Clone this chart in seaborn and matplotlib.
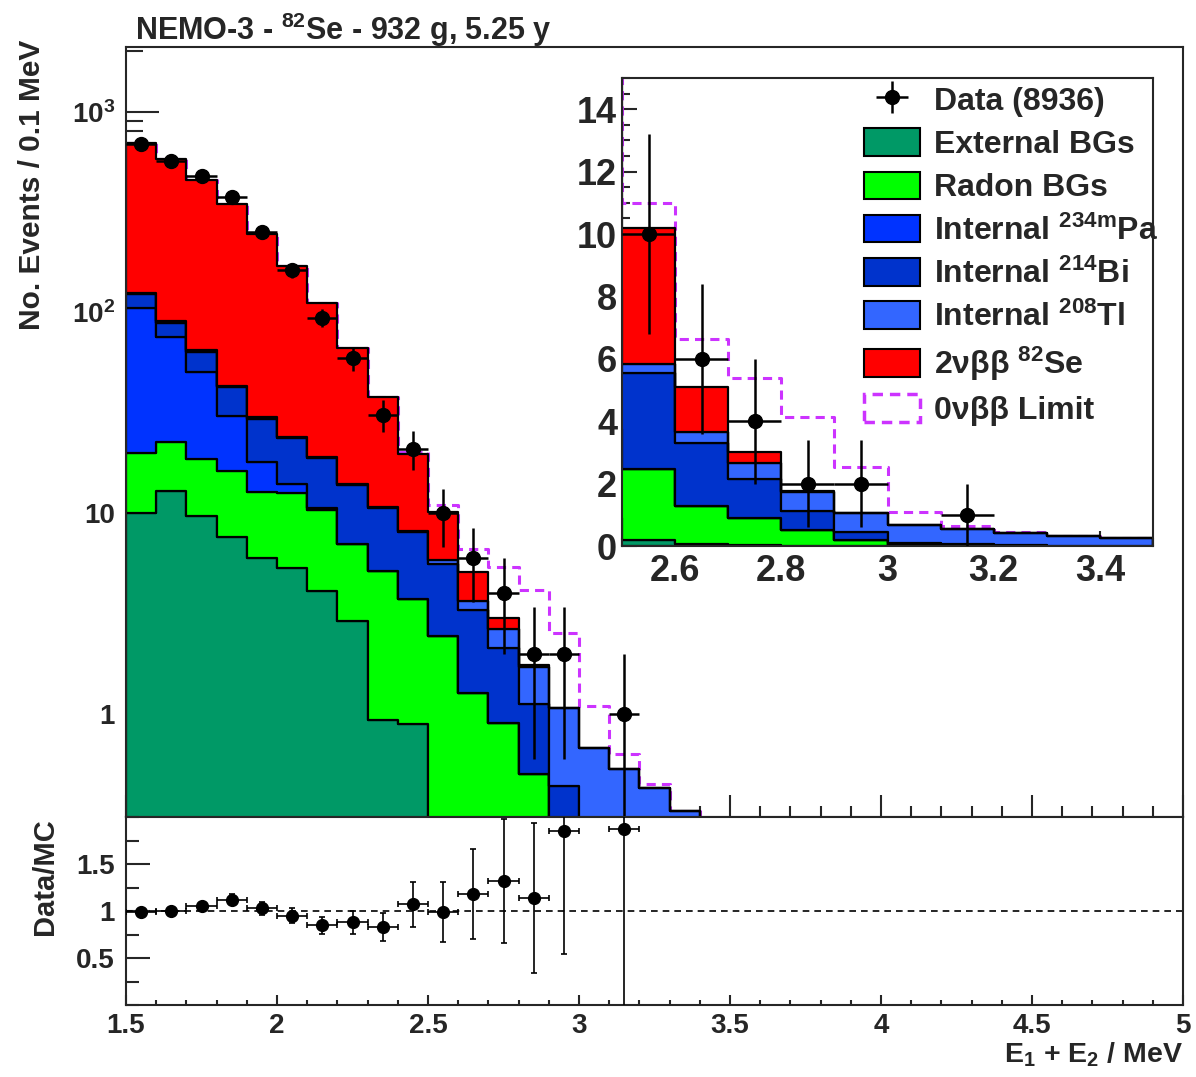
import numpy as np
import pandas as pd
import matplotlib
matplotlib.use("Agg")
import matplotlib.pyplot as plt
import seaborn as sns
from matplotlib.patches import Patch
from matplotlib.ticker import LogLocator, NullFormatter, MultipleLocator, FuncFormatter

# --- values (events / 0.1 MeV, bins start at 1.5 MeV) ---
e_centre = [1.55, 1.65, 1.75, 1.85, 1.95, 2.05, 2.15, 2.25, 2.35, 2.45,
            2.55, 2.65, 2.75, 2.85, 2.95, 3.05, 3.15, 3.25, 3.35, 3.45]
ext_bg = [10.0, 12.9, 9.73, 7.59, 5.99, 5.34, 4.11, 2.89, 0.93, 0.89,
          0.18, 0.06, 0.02, 0, 0, 0, 0, 0, 0, 0]
radon_bg = [9.9, 9.7, 8.87, 8.61, 6.71, 7.26, 6.29, 4.14, 4.2, 2.85,
            2.28, 1.22, 0.88, 0.5, 0.2, 0.03, 0, 0, 0, 0]
pa234m = [85.0, 52.6, 31.8, 14.4, 5.3, 1.4, 0.2, 0.02, 0, 0,
          0, 0, 0, 0, 0, 0, 0, 0, 0, 0]
bi214 = [18.0, 13.8, 13.3, 11.9, 11.6, 9.8, 8.3, 6.75, 5.47, 4.29,
         3.10, 2.03, 1.24, 0.62, 0.24, 0.08, 0.05, 0.02, 0.01, 0]
tl208 = [1.7, 2.1, 1.4, 0.7, 0.4, 0.3, 0.2, 0.2, 0.2, 0.17,
         0.27, 0.34, 0.52, 0.60, 0.63, 0.57, 0.48, 0.41, 0.32, 0.27]
se82_2nu = [572.4, 486.9, 392.9, 301.8, 216.5, 145.9, 91.9, 52.6, 27.0, 11.6,
            4.35, 1.44, 0.36, 0.04, 0, 0, 0, 0, 0, 0]
se82_0nu = [0, 0, 0, 0, 0, 0, 0, 0.05, 0.2, 0.5,
            0.82, 1.55, 2.35, 2.38, 1.45, 0.42, 0.1, 0.02, 0, 0]

data_centre = [1.55, 1.65, 1.75, 1.85, 1.95, 2.05, 2.15, 2.25, 2.35, 2.45,
               2.55, 2.65, 2.75, 2.85, 2.95, 3.15]
data_counts = [687, 571, 476, 378, 251, 162, 94, 59, 31, 21, 10, 6, 4, 2, 2, 1]
data_err = [26.2, 23.9, 21.8, 19.4, 15.8, 12.7, 9.7, 7.7, 5.6, 4.6,
            3.2, 2.4, 2.0, 1.4, 1.4, 1.0]
ratio = [0.99, 1.0, 1.05, 1.12, 1.03, 0.95, 0.85, 0.88, 0.83, 1.07,
         0.99, 1.18, 1.32, 1.14, 1.85, 1.87]
ratio_err = [0.04, 0.04, 0.05, 0.06, 0.07, 0.08, 0.09, 0.12, 0.15, 0.24,
             0.32, 0.48, 0.66, 0.80, 1.31, 1.9]

names = ["2nu", "tl", "bi", "pa", "radon", "ext"]   # stack order, top first
colours = {"ext": "#009966", "radon": "#00ff00", "pa": "#0033ff",
           "bi": "#0033cc", "tl": "#3366ff", "2nu": "#ff0000"}
limit_col = "#cc33ff"
labels = ["External BGs", "Radon BGs", "Internal $^{234m}$Pa",
          "Internal $^{214}$Bi", "Internal $^{208}$Tl", "2\u03bd\u03b2\u03b2 $^{82}$Se"]

edges = [round(1.5 + 0.1 * i, 2) for i in range(36)]

comp = {"ext": ext_bg, "radon": radon_bg, "pa": pa234m,
        "bi": bi214, "tl": tl208, "2nu": se82_2nu}
mc = pd.concat([pd.DataFrame({"energy": e_centre, "events": v, "component": k})
                for k, v in comp.items()], ignore_index=True)
limit = pd.DataFrame({"energy": e_centre,
                      "events": mc.groupby("energy")["events"].sum().values + np.array(se82_0nu)})

# --- style ---
sns.set_style("ticks")
plt.rcParams["font.family"] = ["Liberation Sans", "DejaVu Sans"]
plt.rcParams["font.weight"] = "bold"
plt.rcParams["mathtext.fontset"] = "custom"
plt.rcParams["mathtext.rm"] = "Liberation Sans:bold"
plt.rcParams["mathtext.it"] = "Liberation Sans:bold"
plt.rcParams["mathtext.bf"] = "Liberation Sans:bold"
plt.rcParams["axes.linewidth"] = 1.5

W, H = 1196, 1077
fig = plt.figure(figsize=(W / 100, H / 100), dpi=100)
ax = fig.add_axes([126 / W, 1 - 817 / H, (1183 - 126) / W, (817 - 47) / H])
axr = fig.add_axes([126 / W, 1 - 1005 / H, (1183 - 126) / W, (1005 - 817) / H], sharex=ax)
axi = fig.add_axes([622 / W, 1 - 546 / H, (1153 - 622) / W, (546 - 78) / H])


def draw_stack(a, lw):
    sns.histplot(data=limit, x="energy", weights="events", bins=edges, element="step",
                 fill=False, color=limit_col, linestyle=(0, (3, 2)), linewidth=lw + 0.6,
                 legend=False, ax=a, zorder=1)
    sns.histplot(data=mc, x="energy", weights="events", hue="component", hue_order=names,
                 palette=colours, multiple="stack", bins=edges, element="step",
                 edgecolor="black", linewidth=lw, alpha=1, legend=False, ax=a)
    for c in a.collections:
        c.set_zorder(2)


# main panel
draw_stack(ax, 1.6)
eb = ax.errorbar(data_centre, data_counts, yerr=data_err, xerr=0.05, fmt="o", color="black",
                 ms=10, elinewidth=1.8, capsize=0, zorder=5)
ax.set_yscale("log")
ax.set_xlim(1.5, 5.0)
ax.set_ylim(0.307, 2100)
ax.set_yticks([1, 10, 100, 1000])
ax.set_yticklabels(["1", "10", "10$^{2}$", "10$^{3}$"])
ax.yaxis.set_minor_locator(LogLocator(base=10, subs=np.arange(2, 10)))
ax.yaxis.set_minor_formatter(NullFormatter())
ax.xaxis.set_major_locator(MultipleLocator(0.5))
ax.xaxis.set_minor_locator(MultipleLocator(0.1))
ax.tick_params(axis="x", which="major", direction="in", length=16, width=1.5, labelbottom=False)
ax.tick_params(axis="x", which="minor", direction="in", length=8, width=1.5)
ax.tick_params(axis="y", which="major", direction="in", length=24, width=1.5, labelsize=20, pad=8)
ax.tick_params(axis="y", which="minor", direction="in", length=12, width=1.5)
ax.set_xlabel("")
ax.set_ylabel("")

# ratio panel
axr.axhline(1, color="black", lw=1.2, ls=(0, (4, 3)), zorder=1)
axr.errorbar(data_centre, ratio, yerr=ratio_err, xerr=0.05, fmt="o", color="black",
             ms=8.5, elinewidth=1.2, capsize=2.5, capthick=1.2, zorder=5)
axr.set_ylim(0, 2.0)
axr.set_yticks([0.5, 1, 1.5])
axr.set_yticklabels(["0.5", "1", "1.5"])
axr.yaxis.set_minor_locator(MultipleLocator(0.25))
axr.xaxis.set_major_formatter(FuncFormatter(lambda v, p: f"{v:g}"))
axr.tick_params(axis="x", which="major", direction="in", length=7, width=1.5, labelsize=20, pad=6)
axr.tick_params(axis="x", which="minor", direction="in", length=3.5, width=1.5)
axr.tick_params(axis="y", which="major", direction="in", length=17, width=1.5, labelsize=20, pad=8)
axr.tick_params(axis="y", which="minor", direction="in", length=9, width=1.5)

# inset
axi.set_facecolor("white")
draw_stack(axi, 1.6)
axi.errorbar(data_centre, data_counts, yerr=data_err, xerr=0.05, fmt="o", color="black",
             ms=10, elinewidth=1.8, capsize=0, zorder=5)
axi.set_xlim(2.5, 3.5)
axi.set_ylim(0, 15)
axi.set_yticks(np.arange(0, 15, 2))
axi.yaxis.set_minor_locator(MultipleLocator(0.5))
axi.xaxis.set_major_locator(MultipleLocator(0.2))
axi.xaxis.set_minor_locator(MultipleLocator(0.1))
axi.xaxis.set_major_formatter(FuncFormatter(lambda v, p: f"{v:g}"))
axi.tick_params(which="major", direction="in", length=11, width=1.5, labelsize=26)
axi.tick_params(which="minor", direction="in", length=6, width=1.5)
axi.tick_params(axis="x", pad=6)
axi.set_xlabel("")
axi.set_ylabel("")

handles = [eb] + [Patch(facecolor=colours[k], edgecolor="black", linewidth=1.5)
                  for k in ["ext", "radon", "pa", "bi", "tl", "2nu"]]
handles.append(Patch(facecolor="none", edgecolor=limit_col, linewidth=2.5, linestyle=(0, (3, 2))))
axi.legend(handles, ["Data (8936)"] + labels + ["0\u03bd\u03b2\u03b2 Limit"],
           loc="upper left", bbox_to_anchor=(864 / W, 1 - 85 / H), bbox_transform=fig.transFigure,
           frameon=False, fontsize=23, handlelength=1.75, handleheight=0.95,
           handletextpad=0.45, labelspacing=0.36, borderpad=0, borderaxespad=0)

# texts
fig.text(135 / W, 1 - 30 / H, "NEMO-3 - $^{82}$Se - 932 g, 5.25 y", fontsize=22,
         fontweight="bold", ha="left", va="center")
fig.text(32 / W, 1 - 40 / H, "No. Events / 0.1 MeV", fontsize=21.5, fontweight="bold",
         rotation=90, ha="center", va="top")
fig.text(45 / W, 1 - 818 / H, "Data/MC", fontsize=21, fontweight="bold",
         rotation=90, ha="center", va="top")
fig.text(1183 / W, 1 - 1055 / H, "E$_{1}$ + E$_{2}$ / MeV", fontsize=20.5, fontweight="bold",
         ha="right", va="center")

fig.savefig("out.png", dpi=100)
